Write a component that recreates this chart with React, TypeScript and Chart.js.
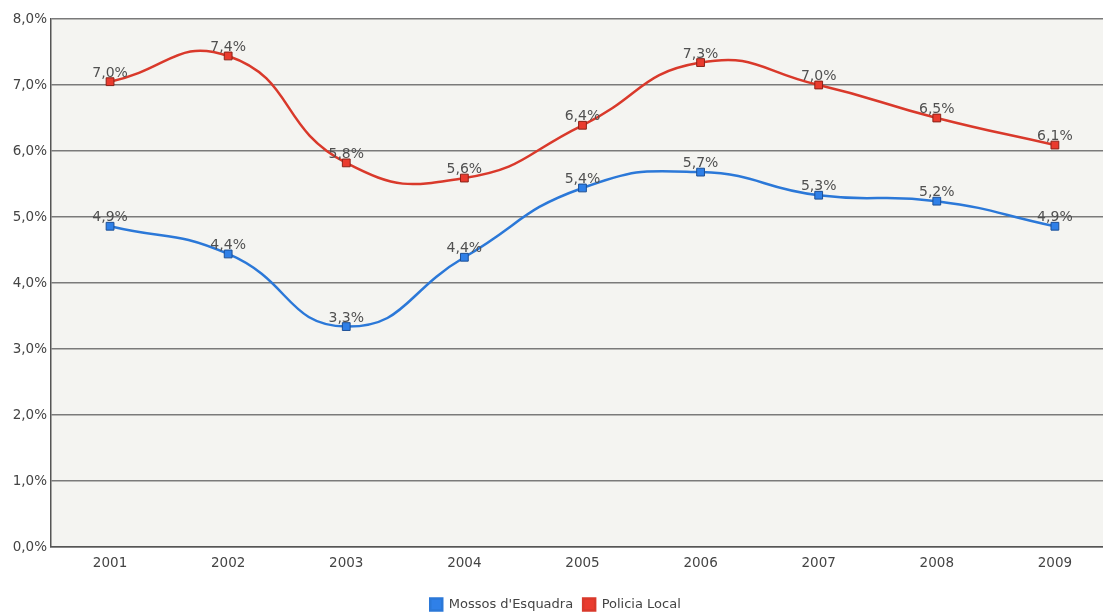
import React, { useEffect, useRef } from "react";
import { Chart, registerables } from "chart.js";

Chart.register(...registerables);

const years = ["2001", "2002", "2003", "2004", "2005", "2006", "2007", "2008", "2009"];
const mossos = [4.86, 4.44, 3.34, 4.39, 5.44, 5.68, 5.33, 5.24, 4.86];
const policia = [7.05, 7.44, 5.82, 5.59, 6.39, 7.34, 7.0, 6.5, 6.09];
const yTicks = [0, 1, 2, 3, 4, 5, 6, 7, 8];

const fmt = (v: number) => v.toFixed(1).replace(".", ",") + "%";
const FONT = "'DejaVu Sans', Verdana, sans-serif";

const plotBg = {
  id: "plotBg",
  beforeDraw(chart: any) {
    const { ctx, chartArea } = chart;
    ctx.save();
    ctx.fillStyle = "#f4f4f1";
    ctx.fillRect(chartArea.left, chartArea.top, chartArea.right - chartArea.left, chartArea.bottom - chartArea.top);
    ctx.restore();
  },
};

const valueLabels = {
  id: "valueLabels",
  afterDatasetsDraw(chart: any) {
    const { ctx } = chart;
    ctx.save();
    ctx.font = "14px " + FONT;
    ctx.fillStyle = "#505050";
    ctx.textAlign = "center";
    ctx.textBaseline = "alphabetic";
    chart.data.datasets.forEach((ds: any, i: number) => {
      const meta = chart.getDatasetMeta(i);
      meta.data.forEach((pt: any, j: number) => {
        ctx.fillText(fmt(ds.data[j].y), pt.x, pt.y - 5);
      });
    });
    ctx.restore();
  },
};

export default function App() {
  const ref = useRef<HTMLCanvasElement | null>(null);
  useEffect(() => {
    const chart = new Chart(ref.current as HTMLCanvasElement, {
      type: "line",
      data: {
        datasets: [
          {
            label: "Mossos d'Esquadra",
            data: mossos.map((v, i) => ({ x: i, y: v })),
            borderColor: "#2b78d8",
            backgroundColor: "#2f80e8",
            pointBorderColor: "#1c4f95",
            pointBackgroundColor: "#2f80e8",
            pointStyle: "rect",
            pointRadius: 5.5,
            pointBorderWidth: 1,
            borderWidth: 2.5,
            tension: 0.5,
            fill: false,
          },
          {
            label: "Policia Local",
            data: policia.map((v, i) => ({ x: i, y: v })),
            borderColor: "#d9392b",
            backgroundColor: "#ea3b2e",
            pointBorderColor: "#8a2218",
            pointBackgroundColor: "#ea3b2e",
            pointStyle: "rect",
            pointRadius: 5.5,
            pointBorderWidth: 1,
            borderWidth: 2.5,
            tension: 0.5,
            fill: false,
          },
        ],
      },
      options: {
        animation: false,
        responsive: true,
        maintainAspectRatio: false,
        layout: { padding: { top: 19, left: 0, right: 0, bottom: 0 } },
        plugins: {
          tooltip: { enabled: false },
          legend: {
            position: "bottom",
            labels: {
              usePointStyle: false,
              boxWidth: 12,
              boxHeight: 12,
              padding: 10,
              color: "#444",
              font: { family: FONT, size: 13 },
            },
          },
        },
        scales: {
          x: {
            type: "linear",
            min: -0.5,
            max: 8.42,
            afterBuildTicks: (scale: any) => {
              scale.ticks = years.map((_, i) => ({ value: i }));
            },
            grid: { display: false, drawTicks: false },
            border: { display: true, color: "#555", width: 1.5 },
            ticks: {
              color: "#444",
              padding: 8,
              font: { family: FONT, size: 13.5 },
              callback: (v: any) => years[v] ?? "",
              autoSkip: false,
              maxRotation: 0,
            },
            afterFit: (scale: any) => {
              scale.height = 41;
              scale.paddingLeft = 0;
              scale.paddingRight = 0;
            },
          },
          y: {
            min: 0,
            max: 8,
            afterBuildTicks: (scale: any) => {
              scale.ticks = yTicks.map((v) => ({ value: v }));
            },
            grid: { color: "#7a7a7a", lineWidth: 1.5, drawTicks: false },
            border: { display: true, color: "#555", width: 1.5 },
            ticks: {
              color: "#444",
              padding: 4,
              font: { family: FONT, size: 13.5 },
              callback: (v: any) => fmt(Number(v)),
            },
            afterFit: (scale: any) => {
              scale.width = 51;
            },
          },
        },
      },
      plugins: [plotBg, valueLabels],
    } as any);
    return () => chart.destroy();
  }, []);
  return (
    <div style={{ position: "fixed", left: 0, top: 0, width: 1111, height: 621, background: "#fff" }}>
      <canvas ref={ref} />
    </div>
  );
}
